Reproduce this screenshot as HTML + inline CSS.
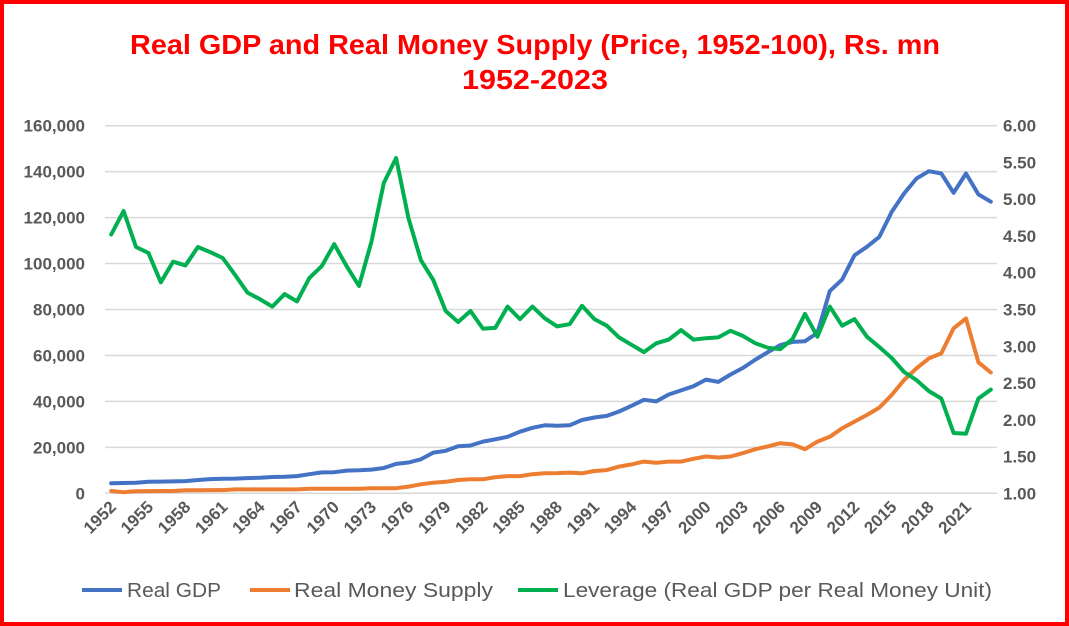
<!DOCTYPE html>
<html><head><meta charset="utf-8"><style>
html,body{margin:0;padding:0;background:#fff;}
svg{display:block;font-family:"Liberation Sans",sans-serif;}
</style></head><body>
<svg id="chart" width="1069" height="626" viewBox="0 0 1069 626" xmlns="http://www.w3.org/2000/svg">
<rect x="2" y="2" width="1065" height="622" fill="#fff" stroke="#ff0000" stroke-width="4"/>
<text x="535" y="54" text-anchor="middle" font-size="28" font-weight="bold" fill="#ff0000" textLength="810" lengthAdjust="spacingAndGlyphs">Real GDP and Real Money Supply (Price, 1952-100), Rs. mn</text>
<text x="535" y="89" text-anchor="middle" font-size="28" font-weight="bold" fill="#ff0000" textLength="146" lengthAdjust="spacingAndGlyphs">1952-2023</text>
<g id="grid"></g><g id="axes"></g><g id="series"></g>
<g>
<line x1="82" y1="590" x2="122" y2="590" stroke="#4472c4" stroke-width="4"/>
<text x="127" y="597" font-size="20" fill="#595959" textLength="94" lengthAdjust="spacingAndGlyphs">Real GDP</text>
<line x1="250" y1="590" x2="290" y2="590" stroke="#ed7d31" stroke-width="4"/>
<text x="294" y="597" font-size="20" fill="#595959" textLength="199" lengthAdjust="spacingAndGlyphs">Real Money Supply</text>
<line x1="518" y1="590" x2="558" y2="590" stroke="#00b050" stroke-width="4"/>
<text x="563" y="597" font-size="20" fill="#595959" textLength="429" lengthAdjust="spacingAndGlyphs">Leverage (Real GDP per Real Money Unit)</text>
</g>
</svg>
<script>
const startYear = 1952;
const gdp = [4350,4500,4600,5000,5100,5200,5300,5800,6200,6300,6400,6600,6800,7100,7200,7500,8300,9100,9200,9900,10000,10300,11000,12800,13400,14800,17700,18500,20500,20800,22500,23500,24600,26800,28500,29600,29400,29600,31900,33000,33700,35600,38100,40700,40000,43000,44800,46600,49500,48500,51700,54600,58200,61400,64500,65900,66200,69800,88000,93000,103600,107300,111600,122500,130500,137000,140200,139200,130800,139200,130100,126900];
const money = [1000,500,900,950,1000,1000,1300,1350,1400,1400,1700,1700,1700,1700,1700,1700,2000,2000,2000,2000,2000,2200,2200,2200,2900,3900,4600,5000,5800,6100,6100,7000,7500,7500,8300,8700,8800,9000,8700,9700,10100,11600,12600,13800,13300,13800,13800,15000,16000,15600,16000,17500,19200,20400,21800,21300,19200,22500,24600,28300,31200,34100,37300,42800,49300,54400,58700,60900,71800,76100,57000,52600];
const leverage = [4.52,4.84,4.35,4.27,3.87,4.15,4.10,4.35,4.28,4.20,3.97,3.73,3.64,3.54,3.71,3.61,3.93,4.09,4.39,4.09,3.82,4.42,5.22,5.56,4.74,4.17,3.90,3.48,3.33,3.48,3.24,3.25,3.54,3.37,3.54,3.38,3.27,3.30,3.55,3.37,3.28,3.12,3.02,2.92,3.04,3.09,3.22,3.09,3.11,3.12,3.21,3.14,3.04,2.98,2.96,3.10,3.44,3.13,3.54,3.28,3.37,3.13,2.99,2.84,2.65,2.54,2.39,2.29,1.82,1.81,2.29,2.41];
const leftTicks = [0,20000,40000,60000,80000,100000,120000,140000,160000];
const rightTicks = [1.00,1.50,2.00,2.50,3.00,3.50,4.00,4.50,5.00,5.50,6.00];

const NS='http://www.w3.org/2000/svg';
const X0=105,X1=997,Y0=493.3,Y1=125.7;
const n=gdp.length, step=(X1-X0)/n;
const x=i=>X0+step*(i+0.5);
const yL=v=>Y0-(v/160000)*(Y0-Y1);
const yR=v=>Y0-((v-1)/5)*(Y0-Y1);
function mk(tag,attrs,parent){const e=document.createElementNS(NS,tag);for(const k in attrs)e.setAttribute(k,attrs[k]);parent.appendChild(e);return e;}
const grid=document.getElementById('grid'),axes=document.getElementById('axes'),series=document.getElementById('series');
leftTicks.forEach(v=>{
  const l=mk('line',{x1:X0,x2:X1,y1:yL(v),y2:yL(v),stroke:'#d9d9d9','stroke-width':1.5},grid);
  
  
  const t=mk('text',{x:85,y:yL(v)+6,'text-anchor':'end','font-size':17,'font-weight':'bold',fill:'#595959'},axes);
  t.textContent=v.toLocaleString('en-US');
  
  
});
rightTicks.forEach(v=>{
  const t=mk('text',{x:1003,y:yR(v)+6,'font-size':17,'font-weight':'bold',fill:'#595959'},axes);
  t.textContent=v.toFixed(2);
  
  
});
for(let i=0;i<n;i+=3){
  const xx=x(i)+6,yy=508;
  const t=mk('text',{x:xx,y:yy,'text-anchor':'end','font-size':17,'font-weight':'bold',fill:'#595959',transform:`rotate(-45 ${xx} ${yy})`},axes);
  t.textContent=String(startYear+i);
  
  
}
function line(data,yf,color,name){
  const d=data.map((v,i)=>(i?'L':'M')+x(i).toFixed(1)+' '+yf(v).toFixed(1)).join(' ');
  const p=mk('path',{d:d,fill:'none',stroke:color,'stroke-width':4,'stroke-linejoin':'round','stroke-linecap':'round'},series);
  
  
}
line(money,yL,'#ed7d31','real-money-supply-line');
line(gdp,yL,'#4472c4','real-gdp-line');
line(leverage,yR,'#00b050','leverage-line');
</script>
</body></html>
